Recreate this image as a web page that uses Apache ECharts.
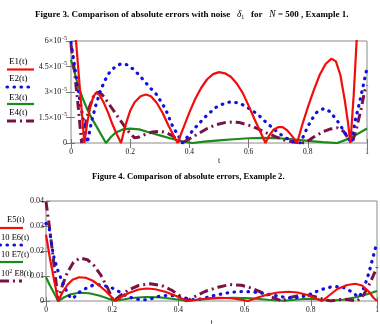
<!DOCTYPE html>
<html>
<head>
<meta charset="utf-8">
<script src="https://cdn.jsdelivr.net/npm/echarts@6/dist/echarts.min.js"></script>
<style>
  html, body { margin: 0; padding: 0; background: #fff; }
  #chart { width: 380px; height: 324px; }
</style>
</head>
<body>
<div id="chart"></div>
<script>
// Figure 3 (values in units of 1e-5), pairs [t, value]
var e1 = [[0,9.5],[0.017,6.0],[0.03,3.2],[0.045,0],[0.055,1.2],[0.065,2.1],[0.075,2.7],[0.084,2.95],[0.095,2.85],[0.11,2.4],[0.125,1.8],[0.14,1.1],[0.155,0.5],[0.169,0],
  [0.185,1.1],[0.2,1.9],[0.215,2.4],[0.235,2.75],[0.253,2.85],[0.27,2.75],[0.29,2.35],[0.31,1.75],[0.33,1.0],[0.345,0.5],[0.36,0],
  [0.38,0.9],[0.4,1.8],[0.42,2.6],[0.44,3.25],[0.46,3.75],[0.48,4.05],[0.5,4.17],[0.52,4.1],[0.54,3.9],[0.56,3.5],[0.58,2.95],[0.6,2.2],[0.62,1.4],[0.64,0.65],[0.657,0],
  [0.67,0.45],[0.685,0.8],[0.7,0.93],[0.715,0.93],[0.73,0.75],[0.745,0.45],[0.764,0],
  [0.78,1.0],[0.8,2.1],[0.82,3.1],[0.84,4.0],[0.86,4.65],[0.88,4.96],[0.895,4.8],[0.91,4.0],[0.925,2.5],[0.935,1.3],[0.944,0],
  [0.955,2.8],[0.965,6.0],[0.98,10],[1,14]];
var e2 = [[0,5.9],[0.015,4.2],[0.03,2.5],[0.045,1.0],[0.055,0],[0.07,1.3],[0.085,2.3],[0.1,3.1],[0.115,3.7],[0.13,4.15],[0.15,4.5],[0.169,4.66],[0.19,4.6],[0.21,4.35],
  [0.23,4.0],[0.253,3.54],[0.27,3.2],[0.287,2.9],[0.305,2.4],[0.32,1.97],[0.343,1.0],[0.36,0.5],[0.376,0],
  [0.4,0.5],[0.43,1.1],[0.46,1.65],[0.49,2.1],[0.52,2.35],[0.54,2.42],[0.57,2.35],[0.6,2.05],[0.63,1.7],[0.66,1.2],[0.69,0.75],[0.72,0.35],[0.75,0.1],[0.775,0],
  [0.79,0.6],[0.81,1.3],[0.83,1.8],[0.854,2.03],[0.875,1.85],[0.9,1.3],[0.92,0.75],[0.947,0],[0.96,1.3],[0.975,2.4],[0.99,3.6],[1,4.4]];
var e3 = [[0,4.9],[0.01,4.3],[0.022,3.5],[0.04,2.6],[0.056,1.94],[0.075,1.3],[0.09,0.86],[0.105,0.4],[0.118,0],[0.135,0.35],[0.15,0.6],[0.175,0.8],[0.2,0.85],
  [0.23,0.8],[0.26,0.65],[0.3,0.45],[0.34,0.25],[0.38,0.08],[0.41,0],[0.45,0.08],[0.5,0.15],[0.55,0.22],[0.6,0.28],[0.65,0.3],[0.7,0.28],[0.75,0.22],[0.8,0.13],
  [0.85,0.05],[0.9,0],[0.93,0.2],[0.96,0.45],[1,0.85]];
var e4 = [[0,5.8],[0.012,4.2],[0.024,2.2],[0.036,0],[0.05,1.2],[0.062,2.1],[0.075,2.7],[0.09,2.99],[0.105,2.85],[0.12,2.5],[0.14,2.0],[0.16,1.5],[0.18,1.0],[0.2,0.55],
  [0.215,0.3],[0.23,0.35],[0.25,0.5],[0.275,0.65],[0.3,0.69],[0.32,0.62],[0.34,0.45],[0.36,0.2],[0.376,0],[0.4,0.25],[0.43,0.55],[0.46,0.85],[0.49,1.08],[0.52,1.2],
  [0.545,1.24],[0.57,1.2],[0.6,1.05],[0.63,0.85],[0.66,0.6],[0.69,0.38],[0.72,0.18],[0.75,0.06],[0.79,0],[0.82,0.35],[0.85,0.65],[0.875,0.82],[0.9,0.89],[0.92,0.7],
  [0.94,0.2],[0.95,0],[0.965,0.9],[0.98,2.0],[0.992,3.05],[1,3.4]];

// Figure 4, pairs [t, value]
var e5 = [[0,0.0265],[0.012,0.017],[0.025,0.008],[0.037,0],[0.05,0.0035],[0.065,0.0065],[0.08,0.0085],[0.1,0.0095],[0.12,0.0093],[0.14,0.0082],[0.16,0.0063],[0.18,0.004],
  [0.195,0.002],[0.209,0],[0.23,0.0018],[0.25,0.0032],[0.28,0.0046],[0.304,0.005],[0.33,0.0047],[0.36,0.0037],[0.39,0.0022],[0.41,0.001],[0.43,0],[0.46,0.0006],
  [0.5,0.0012],[0.526,0.0013],[0.56,0.0011],[0.59,0.0005],[0.61,0],[0.64,0.0014],[0.67,0.0026],[0.7,0.0034],[0.733,0.0037],[0.76,0.0034],[0.79,0.0024],[0.81,0.0013],
  [0.834,0],[0.86,0.0027],[0.88,0.0048],[0.91,0.0064],[0.934,0.0069],[0.955,0.0062],[0.975,0.0038],[0.99,0.0012],[1,0]];
var e6 = [[0,0.031],[0.009,0.0297],[0.022,0.0184],[0.037,0.0117],[0.05,0.0075],[0.063,0.0037],[0.075,0.001],[0.085,0.0015],[0.1,0.0035],[0.12,0.005],[0.14,0.0062],
  [0.16,0.0065],[0.18,0.006],[0.2,0.0052],[0.22,0.0038],[0.24,0.0022],[0.26,0.0012],[0.28,0.0006],[0.3,0.0005],[0.32,0.001],[0.34,0.0018],[0.36,0.0022],[0.38,0.0022],
  [0.4,0.0018],[0.42,0.0012],[0.44,0.0006],[0.46,0.0006],[0.48,0.0012],[0.5,0.002],[0.53,0.0028],[0.56,0.0035],[0.59,0.0038],[0.62,0.0037],[0.65,0.0032],[0.68,0.0025],
  [0.71,0.0017],[0.74,0.0012],[0.77,0.0015],[0.8,0.0028],[0.83,0.0045],[0.86,0.0056],[0.89,0.0058],[0.91,0.0048],[0.93,0.003],[0.945,0.0015],[0.955,0.0035],
  [0.965,0.007],[0.975,0.011],[0.985,0.016],[0.993,0.02],[1,0.0235]];
var e7 = [[0,0.0095],[0.012,0.0062],[0.025,0.003],[0.037,0],[0.055,0.0015],[0.075,0.0027],[0.1,0.0033],[0.13,0.0031],[0.16,0.0022],[0.185,0.0011],[0.204,0.0002],
  [0.22,0.0003],[0.26,0.0012],[0.3,0.0016],[0.34,0.0015],[0.38,0.0009],[0.425,0.0001],[0.47,0.0006],[0.52,0.0011],[0.567,0.0013],[0.62,0.0011],[0.67,0.0005],
  [0.72,0.0001],[0.76,0.0006],[0.79,0.0009],[0.82,0.0007],[0.86,0.0001],[0.9,0.0006],[0.94,0.0016],[0.97,0.0027],[1,0.004]];
var e8 = [[0,0.0397],[0.01,0.03],[0.022,0.017],[0.037,0],[0.05,0.0065],[0.065,0.0115],[0.083,0.0155],[0.103,0.0172],[0.125,0.0165],[0.145,0.0142],[0.165,0.0105],
  [0.185,0.0055],[0.204,0],[0.225,0.0022],[0.25,0.0045],[0.28,0.0062],[0.315,0.0069],[0.35,0.0062],[0.38,0.0043],[0.405,0.002],[0.425,0],[0.45,0.0018],[0.48,0.0038],
  [0.52,0.0055],[0.556,0.0066],[0.59,0.0063],[0.62,0.0052],[0.65,0.0035],[0.68,0.0017],[0.713,0],[0.74,0.0015],[0.778,0.0026],[0.81,0.0018],[0.84,0.0006],[0.86,0],
  [0.9,0.0008],[0.94,0],[0.96,0.0025],[0.98,0.0075],[1,0.0135]];

var FONT = '"Liberation Serif", "DejaVu Serif", serif';
var RED = '#f20d0d', BLUE = '#1010e0', GREEN = '#1a8a1a', PURPLE = '#7a1245';
var DASHDOT = [9, 4, 2, 4];
var DOTS = [0.5, 6.5];

function lineStyleOf(color, kind) {
    if (kind == 'dot') return { color: color, width: 3.2, type: DOTS, cap: 'round' };
    if (kind == 'dashdot') return { color: color, width: 3, type: DASHDOT };
    return { color: color, width: 2.2 };
}

function mkSeries(data, color, kind, idx) {
    return {
        type: 'line', data: data, xAxisIndex: idx * 2, yAxisIndex: idx * 2,
        showSymbol: false, smooth: false, clip: true, animation: false,
        lineStyle: lineStyleOf(color, kind)
    };
}

function lbl(size) { return { color: '#111', fontFamily: FONT, fontSize: size }; }
var sup = { fontFamily: FONT, fontSize: 5.5, color: '#111', padding: [0, 0, 5, 0] };

function xAxes(gi, nameGap, size) {
    return [{
        type: 'value', gridIndex: gi, min: 0, max: 1, interval: 0.2,
        name: 't', nameLocation: 'middle', nameGap: nameGap,
        nameTextStyle: { color: '#111', fontFamily: FONT, fontSize: 8 },
        axisLine: { show: false }, splitLine: { show: false },
        axisTick: { show: true, inside: true, length: 4, lineStyle: { color: '#777' } },
        axisLabel: Object.assign({ margin: 5 }, lbl(size))
    }, {
        type: 'value', gridIndex: gi, min: 0, max: 1, interval: 0.2, position: 'top',
        axisLine: { show: false }, splitLine: { show: false }, axisLabel: { show: false },
        axisTick: { show: true, inside: true, length: 5, lineStyle: { color: '#777' } }
    }];
}

var option = {
    backgroundColor: '#fff',
    animation: false,
    grid: [
        { left: 71, top: 41, width: 296, height: 102, show: true, borderColor: '#8a8a8a', borderWidth: 1, outerBoundsMode: 'none' },
        { left: 46, top: 201, width: 331, height: 100, show: true, borderColor: '#8a8a8a', borderWidth: 1, outerBoundsMode: 'none' }
    ],
    xAxis: xAxes(0, 14, 7.5).concat(xAxes(1, 18, 7.5)),
    yAxis: [{
        type: 'value', gridIndex: 0, min: 0, max: 6, interval: 1.5,
        axisLine: { show: false }, splitLine: { show: false },
        axisTick: { show: true, inside: true, length: 4, lineStyle: { color: '#777' } },
        axisLabel: Object.assign({ margin: 4, rich: { s: sup },
            formatter: function (v) { return v === 0 ? '0' : v + '×10{s|−5}'; } }, lbl(8))
    }, {
        type: 'value', gridIndex: 0, min: 0, max: 6, interval: 1.5, position: 'right',
        axisLine: { show: false }, splitLine: { show: false }, axisLabel: { show: false },
        axisTick: { show: true, inside: true, length: 5, lineStyle: { color: '#777' } }
    }, {
        type: 'value', gridIndex: 1, min: 0, max: 0.04, interval: 0.01,
        axisLine: { show: false }, splitLine: { show: false },
        axisTick: { show: true, inside: true, length: 4, lineStyle: { color: '#777' } },
        axisLabel: Object.assign({ margin: 2, formatter: function (v) { return v === 0 ? '0' : v.toFixed(2); } }, lbl(8))
    }, {
        type: 'value', gridIndex: 1, min: 0, max: 0.04, interval: 0.01, position: 'right',
        axisLine: { show: false }, splitLine: { show: false }, axisLabel: { show: false },
        axisTick: { show: true, inside: true, length: 5, lineStyle: { color: '#777' } }
    }],
    series: [
        mkSeries(e3, GREEN, 'solid', 0),
        mkSeries(e4, PURPLE, 'dashdot', 0),
        mkSeries(e2, BLUE, 'dot', 0),
        mkSeries(e1, RED, 'solid', 0),
        mkSeries(e7, GREEN, 'solid', 1),
        mkSeries(e8, PURPLE, 'dashdot', 1),
        mkSeries(e6, BLUE, 'dot', 1),
        mkSeries(e5, RED, 'solid', 1)
    ],
    graphic: []
};

// titles
function titleRich(size) {
    return {
        b: { fontFamily: FONT, fontSize: size, fontWeight: 'bold', color: '#111' },
        i: { fontFamily: FONT, fontSize: size + 0.5, fontStyle: 'italic', color: '#111' },
        sub: { fontFamily: FONT, fontSize: 6, color: '#111', padding: [5, 0, 0, 0] }
    };
}
option.graphic.push({
    type: 'text', x: 35, y: 9,
    style: { text: '{b|Figure 3. Comparison of absolute errors with noise   }{i|δ}{sub|1}{b|   for   }{i|N}{b| = 500 , Example 1.}', rich: titleRich(9) }
});
option.graphic.push({
    type: 'text', x: 92, y: 172,
    style: { text: '{b|Figure 4. Comparison of absolute errors, Example 2.}', rich: titleRich(8.6) }
});

// Mathcad-style legends: label above a sample line
function legendItem(label, tx, ty, lx0, lx1, ly, color, kind, size) {
    var st = lineStyleOf(color, kind);
    option.graphic.push({
        type: 'text', x: tx, y: ty, z: 10,
        style: { text: label, verticalAlign: 'middle',
            rich: { s: { fontFamily: FONT, fontSize: 5.5, color: '#111', padding: [0, 0, 5, 0] },
                    n: { fontFamily: FONT, fontSize: size, color: '#111' } } }
    });
    option.graphic.push({
        type: 'line', shape: { x1: lx0, y1: ly, x2: lx1, y2: ly },
        style: { stroke: color, lineWidth: st.width, lineDash: Array.isArray(st.type) ? st.type : null, lineCap: st.cap || 'butt' }
    });
}
legendItem('{n|E1(t)}', 9, 62, 7, 34, 69.5, RED, 'solid', 9);
legendItem('{n|E2(t)}', 9, 79, 7, 34, 87, BLUE, 'dot', 9);
legendItem('{n|E3(t)}', 9, 98, 7, 34, 104, GREEN, 'solid', 9);
legendItem('{n|E4(t)}', 9, 113, 7, 34, 121, PURPLE, 'dashdot', 9);

legendItem('{n|E5(t)}', 7, 220, 0, 23, 228, RED, 'solid', 8.5);
legendItem('{n|10 E6(t)}', 1, 238, 0, 23, 245, BLUE, 'dot', 8.5);
legendItem('{n|10 E7(t)}', 1, 255, 0, 23, 262, GREEN, 'solid', 8.5);
legendItem('{n|10}{s|2}{n| E8(t)}', 1, 274, 0, 22, 281, PURPLE, 'dashdot', 8.5);

var chart = echarts.init(document.getElementById('chart'));
chart.setOption(option);
</script>
</body>
</html>
